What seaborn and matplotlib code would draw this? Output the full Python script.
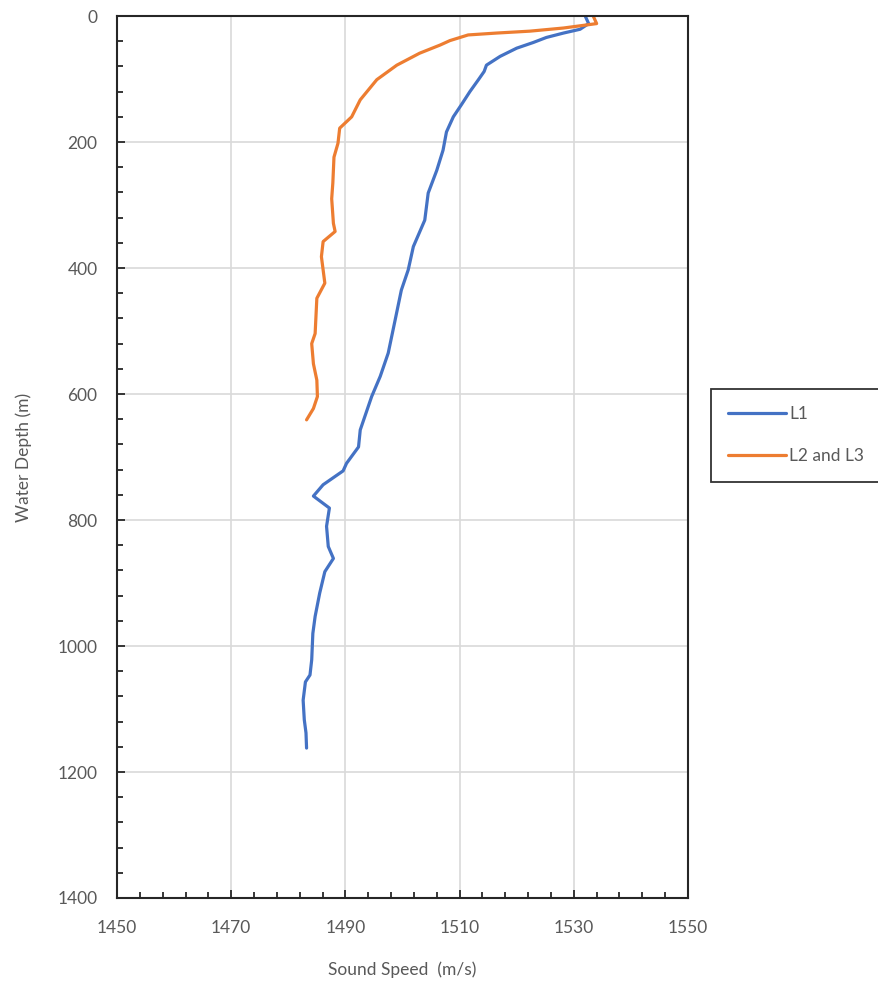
import matplotlib
matplotlib.use("Agg")
import matplotlib.pyplot as plt
import seaborn as sns
import pandas as pd
import numpy as np
from matplotlib.lines import Line2D

# L1 profile
l1_speed = [1532.0, 1532.6, 1531.1, 1528.2, 1525.2, 1522.9, 1520.0, 1517.1, 1514.7, 1514.3,
            1513.3, 1511.8, 1510.3, 1508.9, 1507.7, 1507.1, 1506.0, 1504.5, 1503.9, 1501.9,
            1501.0, 1499.8, 1498.7, 1497.5, 1496.1, 1494.6, 1492.6, 1492.3, 1490.2, 1489.6,
            1486.1, 1484.4, 1487.2, 1486.7, 1487.0, 1487.9, 1486.4, 1485.5, 1484.7, 1484.3,
            1484.1, 1483.8, 1483.0, 1482.6, 1482.8, 1483.1, 1483.2]
l1_depth = [0, 12, 21, 27, 34, 42, 51, 64, 78, 88,
            101, 120, 141, 160, 184, 213, 245, 281, 324, 366,
            403, 435, 483, 535, 572, 604, 657, 684, 710, 722,
            744, 762, 781, 810, 842, 861, 882, 916, 953, 980,
            1022, 1046, 1057, 1086, 1117, 1138, 1162]

# L2 and L3 profile
l23_speed = [1533.4, 1534.0, 1528.2, 1522.3, 1516.5, 1511.5, 1508.3, 1506.6, 1503.0, 1499.0,
             1495.5, 1492.6, 1491.1, 1489.0, 1488.7, 1488.0, 1487.8, 1487.6, 1487.9, 1488.2,
             1486.1, 1485.8, 1486.4, 1485.0, 1484.7, 1484.1, 1484.4, 1485.0, 1485.1, 1484.4,
             1483.2]
l23_depth = [0, 12, 19, 24, 27, 30, 39, 46, 59, 78,
             101, 133, 160, 178, 202, 224, 265, 290, 329, 342,
             358, 382, 424, 448, 504, 520, 552, 578, 604, 623,
             641]

series_names = ["L1", "L2 and L3"]
colors = ["#4472C4", "#ED7D31"]
x_ticks = [1450, 1470, 1490, 1510, 1530, 1550]
y_ticks = [0, 200, 400, 600, 800, 1000, 1200, 1400]

df = pd.concat([
    pd.DataFrame({"speed": l1_speed, "depth": l1_depth, "series": series_names[0]}),
    pd.DataFrame({"speed": l23_speed, "depth": l23_depth, "series": series_names[1]}),
], ignore_index=True)

sns.set_theme(style="white")
plt.rcParams["font.family"] = ["Lato", "DejaVu Sans"]

fig = plt.figure(figsize=(8.79, 9.84), dpi=100)
ax = fig.add_axes([0.1331, 0.0874, 0.6496, 0.8963])

sns.lineplot(data=df, x="speed", y="depth", hue="series", palette=colors,
             sort=False, estimator=None, linewidth=2.3, ax=ax, legend=False)

ax.set_xlim(1450, 1550)
ax.set_ylim(1400, 0)
ax.set_xticks(x_ticks)
ax.set_xticks(np.arange(1450, 1551, 4), minor=True)
ax.set_yticks(y_ticks)
ax.set_yticks(np.arange(0, 1401, 40), minor=True)
ax.grid(True, which="major", color="#D9D9D9", linewidth=1.2)
ax.set_axisbelow(True)

for s in ax.spines.values():
    s.set_color("#262626")
    s.set_linewidth(1.5)

ax.tick_params(axis="both", which="both", direction="in", colors="#262626",
               labelcolor="#595959", labelsize=12.5)
ax.tick_params(axis="x", which="major", length=6, width=1.3, pad=16, bottom=True)
ax.tick_params(axis="x", which="minor", length=4, width=1.3, bottom=True)
ax.tick_params(axis="y", which="major", length=6, width=1.3, pad=14, left=True)
ax.tick_params(axis="y", which="minor", length=4, width=1.3, left=True)

ax.set_xlabel("Sound Speed  (m/s)", fontsize=12.5, color="#595959", labelpad=18)
ax.set_ylabel("Water Depth (m)", fontsize=12.5, color="#595959", labelpad=18)

handles = [Line2D([], [], color=c, linewidth=2.3) for c in colors]
leg = fig.legend(handles, series_names, loc="center left",
                 bbox_to_anchor=(0.799, 0.5575), frameon=True, fancybox=False,
                 fontsize=12.5, handlelength=3.3, labelspacing=1.5,
                 borderpad=1.0, handletextpad=0.2)
leg.get_frame().set_edgecolor("#000000")
leg.get_frame().set_linewidth(1.3)
for t in leg.get_texts():
    t.set_color("#595959")

fig.savefig("out.png", dpi=100)
